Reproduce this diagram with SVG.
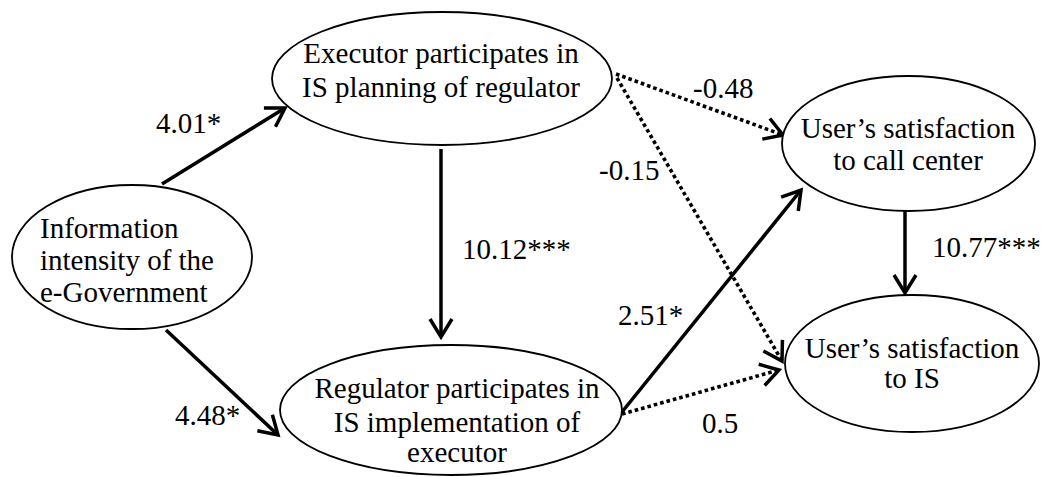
<svg xmlns="http://www.w3.org/2000/svg" width="1041" height="477" viewBox="0 0 1041 477">
<style>
.node ellipse{fill:#fff;stroke:#000;stroke-width:1.8}
text{font-family:'Liberation Serif','Times New Roman',serif;font-size:29px;fill:#000}
.c{text-anchor:middle}
.solid{stroke:#000;stroke-width:3.5;fill:none;marker-end:url(#arr)}
.dot{stroke:#000;stroke-width:3.6;stroke-dasharray:3.6 3;fill:none;marker-end:url(#arr)}
</style>
<defs>
<marker id="arr" markerUnits="userSpaceOnUse" markerWidth="24" markerHeight="28" viewBox="0 0 24 28" refX="20" refY="14" orient="auto">
<path d="M2,3 L20,14 L2,25" fill="none" stroke="#000" stroke-width="3.5" stroke-dasharray="none"/>
</marker>
</defs>
<rect width="1041" height="477" fill="#fff"/>
<g id="connectors">
<line class="solid" x1="162" y1="184" x2="285" y2="108"/>
<line class="solid" x1="166" y1="330" x2="278" y2="435"/>
<line class="solid" x1="441" y1="149" x2="441" y2="337"/>
<line class="dot" x1="616" y1="74" x2="783" y2="135"/>
<line class="dot" x1="617" y1="78" x2="782" y2="361"/>
<line class="solid" x1="622" y1="412" x2="801" y2="190"/>
<line class="dot" x1="622" y1="414" x2="779" y2="370"/>
<line class="solid" x1="905" y1="211" x2="905" y2="293"/>
</g>
<g id="node-executor" class="node">
<ellipse cx="442" cy="78.5" rx="170" ry="66.5"/>
<text class="c" x="441" y="63">Executor participates in</text>
<text class="c" x="441" y="97">IS planning of regulator</text>
</g>
<g id="node-info" class="node">
<ellipse cx="132" cy="257" rx="120" ry="72"/>
<text x="40" y="238">Information</text>
<text x="40" y="270">intensity of the</text>
<text x="40" y="302">e-Government</text>
</g>
<g id="node-regulator" class="node">
<ellipse cx="451" cy="410" rx="171" ry="65"/>
<text class="c" x="457" y="398">Regulator participates in</text>
<text class="c" x="457" y="432">IS implementation of</text>
<text class="c" x="457" y="462">executor</text>
</g>
<g id="node-callcenter" class="node">
<ellipse cx="908.5" cy="143.5" rx="126.5" ry="67.5"/>
<text class="c" x="908" y="138">User’s satisfaction</text>
<text class="c" x="908" y="170">to call center</text>
</g>
<g id="node-is" class="node">
<ellipse cx="912" cy="363.5" rx="127" ry="68.5"/>
<text class="c" x="912" y="358">User’s satisfaction</text>
<text class="c" x="912" y="388">to IS</text>
</g>
<g id="labels">
<text x="156" y="133">4.01*</text>
<text x="175" y="425">4.48*</text>
<text x="462" y="259">10.12***</text>
<text x="693" y="98">-0.48</text>
<text x="599" y="180">-0.15</text>
<text x="618" y="325">2.51*</text>
<text x="702" y="433">0.5</text>
<text x="932" y="257">10.77***</text>
</g>
</svg>
